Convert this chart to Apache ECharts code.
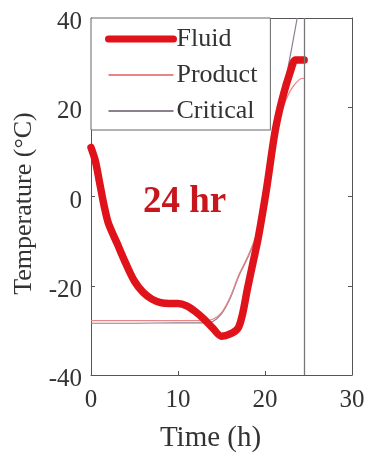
<!DOCTYPE html>
<html><head><meta charset="utf-8">
<script src="https://cdn.jsdelivr.net/npm/echarts@6/dist/echarts.min.js"></script>
<style>html,body{margin:0;padding:0;background:#fff}#c{width:367px;height:455px}</style>
</head><body><div id="c"></div>
<script>
const fluidT = [0, 0.5, 1, 1.5, 2, 3, 4, 5, 6, 7, 8, 9, 10, 11, 12, 13, 14, 15, 16, 16.9, 17.4, 18, 18.6, 19.2, 20.2, 21.15, 22, 23, 23.5, 24.5];
const fluidV = [11, 8, 3, -2, -6, -10.5, -15, -19, -21.5, -23, -23.8, -24, -24, -24.5, -25.8, -27.5, -29.5, -31.3, -30.8, -29.5, -26.5, -20.5, -15, -9.5, 2, 14.5, 22, 28.5, 30.6, 30.6];
const productT = [0, 5, 10, 13, 14, 15, 16, 17, 18, 19, 20, 21, 22, 23, 24, 24.5];
const productV = [-27.8, -27.8, -27.8, -27.8, -27.5, -26, -22.5, -17.5, -13.5, -8.5, 1, 12.5, 19.5, 24, 26.3, 26.5];
const criticalT = [0, 5, 10, 13, 14, 15, 16, 17, 18, 19, 20, 21, 22, 23, 23.7];
const criticalV = [-28.4, -28.4, -28.3, -28.3, -28, -26.3, -22.8, -17.8, -13.8, -8.8, 1, 12.5, 22.5, 32.5, 40];
const endTime = 24.5;
const xTicks = [0, 10, 20, 30];
const yTicks = [-40, -20, 0, 20, 40];
const seriesNames = ['Fluid', 'Product', 'Critical'];
const annotation = '24 hr';

const pairs = (t, v) => t.map((x, i) => [x, v[i]]);
const serif = 'Liberation Serif';
const axisCol = '#555';
const txtCol = '#333';
const chart = echarts.init(document.getElementById('c'));
chart.setOption({
  animation: false,
  grid: { left: 91, right: 15, top: 18, bottom: 80, containLabel: false, outerBoundsMode: 'none' },
  legend: {
    data: [
      { name: seriesNames[0], lineStyle: { width: 7 } },
      { name: seriesNames[1] },
      { name: seriesNames[2] }
    ],
    orient: 'vertical', left: 91, top: 18,
    padding: [8, 13, 6, 14], itemGap: 10,
    itemWidth: 65, itemHeight: 14,
    itemStyle: { opacity: 0 },
    backgroundColor: '#fff', borderColor: '#666', borderWidth: 1,
    textStyle: { fontFamily: serif, fontSize: 26, lineHeight: 26, color: txtCol, padding: [0, 0, 0, -2] }
  },
  xAxis: [{
    type: 'value', min: 0, max: 30, interval: 10,
    name: 'Time (h)', nameLocation: 'middle', nameGap: 49,
    nameTextStyle: { fontFamily: serif, fontSize: 29, color: txtCol, padding: [0, 22, 0, 0] },
    axisLine: { show: true, onZero: false, lineStyle: { color: axisCol } },
    axisTick: { show: true, inside: true, length: 4, lineStyle: { color: axisCol } },
    axisLabel: { fontFamily: serif, fontSize: 25, color: txtCol, margin: 13 },
    splitLine: { show: false }
  }, {
    type: 'value', min: 0, max: 30, interval: 10, position: 'top',
    axisLine: { show: true, onZero: false, lineStyle: { color: axisCol } },
    axisTick: { show: true, inside: true, length: 4, lineStyle: { color: axisCol } },
    axisLabel: { show: false }, splitLine: { show: false }
  }],
  yAxis: [{
    type: 'value', min: -40, max: 40, interval: 20,
    name: 'Temperature (°C)', nameLocation: 'middle', nameGap: 54,
    nameTextStyle: { fontFamily: serif, fontSize: 26, color: txtCol, padding: [0, 14, 0, 0] },
    axisLine: { show: true, onZero: false, lineStyle: { color: axisCol } },
    axisTick: { show: true, inside: true, length: 4, lineStyle: { color: axisCol } },
    axisLabel: { fontFamily: serif, fontSize: 25, color: txtCol, margin: 9, verticalAlign: 'top', lineHeight: 9 },
    splitLine: { show: false }
  }, {
    type: 'value', min: -40, max: 40, interval: 20, position: 'right',
    axisLine: { show: true, onZero: false, lineStyle: { color: axisCol } },
    axisTick: { show: true, inside: true, length: 4, lineStyle: { color: axisCol } },
    axisLabel: { show: false }, splitLine: { show: false }
  }],
  series: [{
    name: seriesNames[2], type: 'line', data: pairs(criticalT, criticalV),
    symbol: 'none', smooth: 0.3, z: 2,
    lineStyle: { color: '#8d7f90', width: 1.2 }, itemStyle: { color: '#8d7f90' },
    markLine: {
      silent: true, symbol: 'none', label: { show: false },
      lineStyle: { color: '#777', width: 1.3, type: 'solid' },
      data: [{ xAxis: endTime }]
    }
  }, {
    name: seriesNames[1], type: 'line', data: pairs(productT, productV),
    symbol: 'none', smooth: 0.3, z: 3,
    lineStyle: { color: '#e98585', width: 1.2 }, itemStyle: { color: '#e98585' }
  }, {
    name: seriesNames[0], type: 'line', data: pairs(fluidT, fluidV),
    symbol: 'none', smooth: 0.3, z: 4,
    lineStyle: { color: '#e0121a', width: 7.5, cap: 'round', join: 'round' }, itemStyle: { color: '#e0121a' }
  }],
  graphic: [{
    type: 'text', left: 143, top: 184, z: 10,
    style: { text: annotation, font: 'bold 37px "Liberation Serif"', fill: '#c8161d' }
  }]
});
</script></body></html>
